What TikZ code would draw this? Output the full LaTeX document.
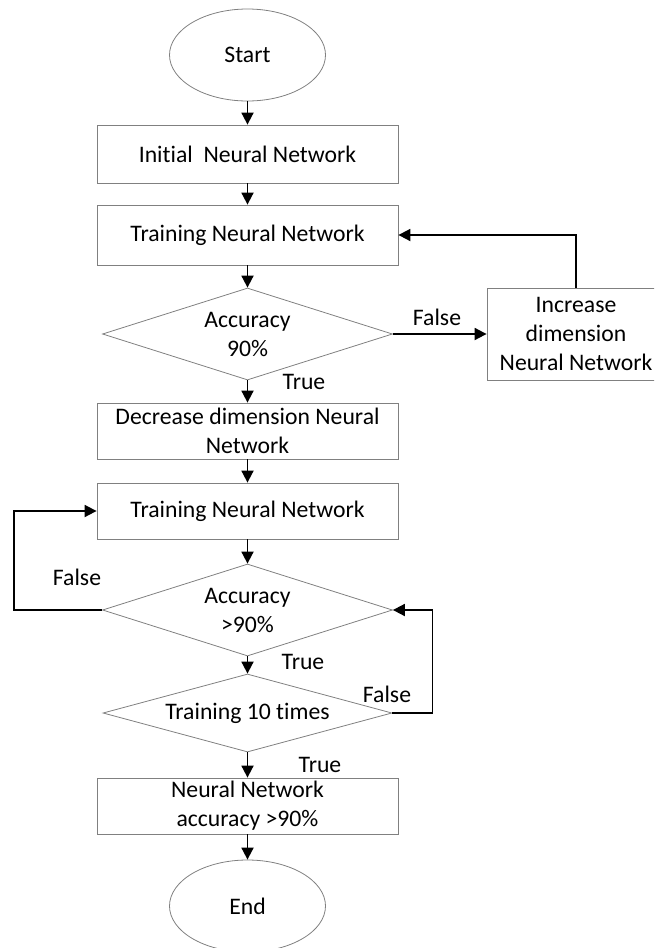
\documentclass[tikz,border=0pt]{standalone}
\usepackage{fontspec}
\setmainfont{Carlito}[Ligatures=NoCommon]
\usetikzlibrary{shapes.geometric,arrows.meta}
\begin{document}
\begin{tikzpicture}[x=1pt,y=-1pt,
  every node/.style={font=\fontsize{23.7}{29}\selectfont, text=black},
  shapeline/.style={draw=black!50, line width=0.8pt},
  procbox/.style={shapeline, rectangle, minimum width=301pt, minimum height=56pt, inner sep=0pt, align=center},
  term/.style={shapeline, ellipse, minimum width=156pt, minimum height=92pt, inner sep=0pt},
  decision/.style={shapeline, diamond, minimum width=290pt, minimum height=92pt, inner sep=0pt, aspect=3.15, align=center},
  flow/.style={line width=1.8pt, -{Triangle[length=12pt,width=12pt]}},
  lbl/.style={inner sep=0pt}
]
\useasboundingbox (0,0) rectangle (654,948);
\clip (0,0) rectangle (654,948);

\node[term] (start) at (247.5,55) {Start};
\node[procbox, minimum height=58pt] (init) at (247.5,154) {Initial~~Neural Network};
\node[procbox, minimum height=60pt] (train1) at (247.5,235) {Training Neural Network};
\node[decision] (dec1) at (247.5,334) {Accuracy\\90\%};
\node[shapeline, rectangle, minimum width=178pt, minimum height=92pt, inner sep=0pt, align=center] (incr) at (576,334) {Increase\\dimension\\Neural Network};
\node[procbox] (decr) at (247.5,431) {Decrease dimension Neural\\Network};
\node[procbox] (train2) at (247.5,511) {Training Neural Network};
\node[decision] (dec2) at (247.5,610) {Accuracy\\>90\%};
\node[decision, minimum width=289pt, minimum height=78pt, aspect=3.7] (dec3) at (247.5,713) {Training 10 times};
\node[procbox] (final) at (247.5,806) {Neural Network\\accuracy >90\%};
\node[term] (end) at (247.5,906) {End};

\draw[flow] (start) -- (init);
\draw[flow] (init) -- (train1);
\draw[flow] (train1) -- (dec1);
\draw[flow] (dec1.east) -- (incr.west);
\draw[flow] (incr.north) |- (train1.east);
\draw[flow] (dec1.south) -- (decr.north);
\draw[flow] (decr) -- (train2);
\draw[flow] (train2) -- (dec2);
\draw[flow] (dec2.west) -- ++(-88,0) |- (train2.west);
\draw[flow] (dec2.south) -- (dec3.north);
\draw[flow] (dec3.east) -- ++(40,0) |- (dec2.east);
\draw[flow] (dec3.south) -- (final.north);
\draw[flow] (final) -- (end);

\node[lbl] (f1) at (437,317) {False};
\node[lbl] (t1) at (304,382) {True};
\node[lbl] (f2) at (77,577) {False};
\node[lbl] (t2) at (303,662) {True};
\node[lbl] (f3) at (387,694) {False};
\node[lbl] (t3) at (320,765) {True};
\end{tikzpicture}
\end{document}
